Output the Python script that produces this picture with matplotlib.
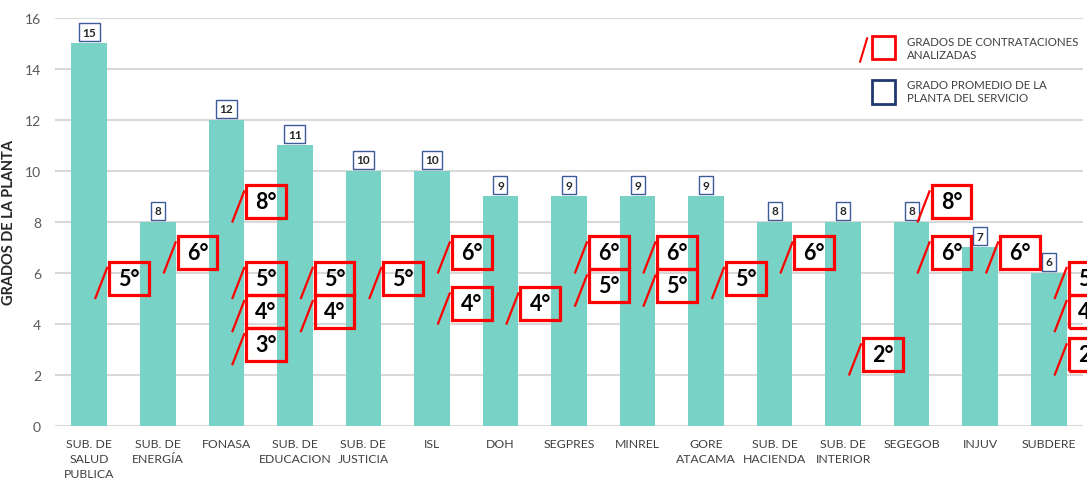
import numpy as np
import matplotlib.pyplot as plt
from matplotlib.patches import Rectangle
from matplotlib.lines import Line2D

# data
categories = ['SUB. DE\nSALUD\nPUBLICA', 'SUB. DE\nENERGÍA', 'FONASA', 'SUB. DE\nEDUCACION',
              'SUB. DE\nJUSTICIA', 'ISL', 'DOH', 'SEGPRES', 'MINREL', 'GORE\nATACAMA',
              'SUB. DE\nHACIENDA', 'SUB. DE\nINTERIOR', 'SEGEGOB', 'INJUV', 'SUBDERE']
avgGrade = [15, 8, 12, 11, 10, 10, 9, 9, 9, 9, 8, 8, 8, 7, 6]
hiredGrades = [[5], [6], [8, 5, 4, 3], [5, 4], [5], [6, 4], [4], [6, 5], [6, 5],
               [5], [6], [2], [8, 6], [6], [5, 4, 2]]
legendLabels = ['GRADOS DE CONTRATACIONES\nANALIZADAS', 'GRADO PROMEDIO DE LA\nPLANTA DEL SERVICIO']

# styling
barColor = '#79d2c6'
boxRed = '#ff0000'
navy = '#1f3a6e'
textGray = '#404040'
plt.rcParams['font.family'] = ['Lato', 'DejaVu Sans']

fig = plt.figure(figsize=(10.87, 4.81), dpi=100)
ax = fig.add_axes([0.0506, 0.1123, 0.9457, 0.8482])

x = np.arange(len(categories))
ax.bar(x, avgGrade, width=0.52, color=barColor, zorder=2)

# value boxes above the bars
for xi, v in zip(x, avgGrade):
    ax.annotate(str(v), (xi, v), xytext=(0, 4), textcoords='offset points',
                ha='center', va='bottom', fontsize=8.5, fontweight='bold', color='#262626',
                bbox=dict(boxstyle='square,pad=0.3', fc='white', ec='#3d5a99', lw=1.0),
                zorder=5)

# red boxes with slash for the analysed grades
boxW, boxH = 0.58, 1.3
for xi, grades in zip(x, hiredGrades):
    prev = None
    for g in sorted(grades, reverse=True):
        yc = g + 0.8
        if prev is not None:
            yc = min(yc, prev - boxH)
        prev = yc
        ax.add_patch(Rectangle((xi + 0.29, yc - boxH / 2), boxW, boxH, fill=False,
                               ec=boxRed, lw=2.3, zorder=6, clip_on=False))
        ax.plot([xi + 0.09, xi + 0.26], [yc - 0.78, yc + 0.4], color=boxRed, lw=1.6,
                zorder=6, clip_on=False)
        ax.text(xi + 0.29 + boxW / 2, yc, f'{g}°', ha='center', va='center', fontsize=15.5,
                fontweight='bold', color='black', zorder=7, clip_on=False)

# axes look
ax.set_xlim(-0.5, len(categories) - 0.5)
ax.set_ylim(0, 16)
ax.set_yticks(np.arange(0, 17, 2))
ax.set_xticks(x)
ax.set_xticklabels(categories, fontsize=8.8, color=textGray, linespacing=1.4)
ax.tick_params(axis='both', length=0)
ax.tick_params(axis='x', pad=9)
ax.tick_params(axis='y', labelsize=10, colors='#595959', pad=10)
ax.grid(axis='y', color='#d9d9d9', lw=1.5, zorder=0)
ax.set_axisbelow(True)
for s in ax.spines.values():
    s.set_visible(False)
ax.set_ylabel('GRADOS DE LA PLANTA', fontsize=10.5, fontweight='bold', color='#262626')
ax.yaxis.set_label_coords(-0.038, 0.5)

# legend drawn by hand in axes fraction
tr = ax.transAxes
ax.add_patch(Rectangle((0.7945, 0.899), 0.023, 0.058, transform=tr, fill=False, ec=boxRed, lw=2.0, clip_on=False))
ax.add_line(Line2D([0.7832, 0.79], [0.893, 0.95], transform=tr, color=boxRed, lw=1.5, clip_on=False))
ax.add_patch(Rectangle((0.7945, 0.79), 0.023, 0.058, transform=tr, fill=False, ec=navy, lw=2.0, clip_on=False))
ax.text(0.829, 0.956, legendLabels[0], transform=tr, fontsize=8.3, color=textGray, va='top', ha='left', linespacing=1.25)
ax.text(0.829, 0.85, legendLabels[1], transform=tr, fontsize=8.3, color=textGray, va='top', ha='left', linespacing=1.25)

fig.savefig('out.png', dpi=100)
